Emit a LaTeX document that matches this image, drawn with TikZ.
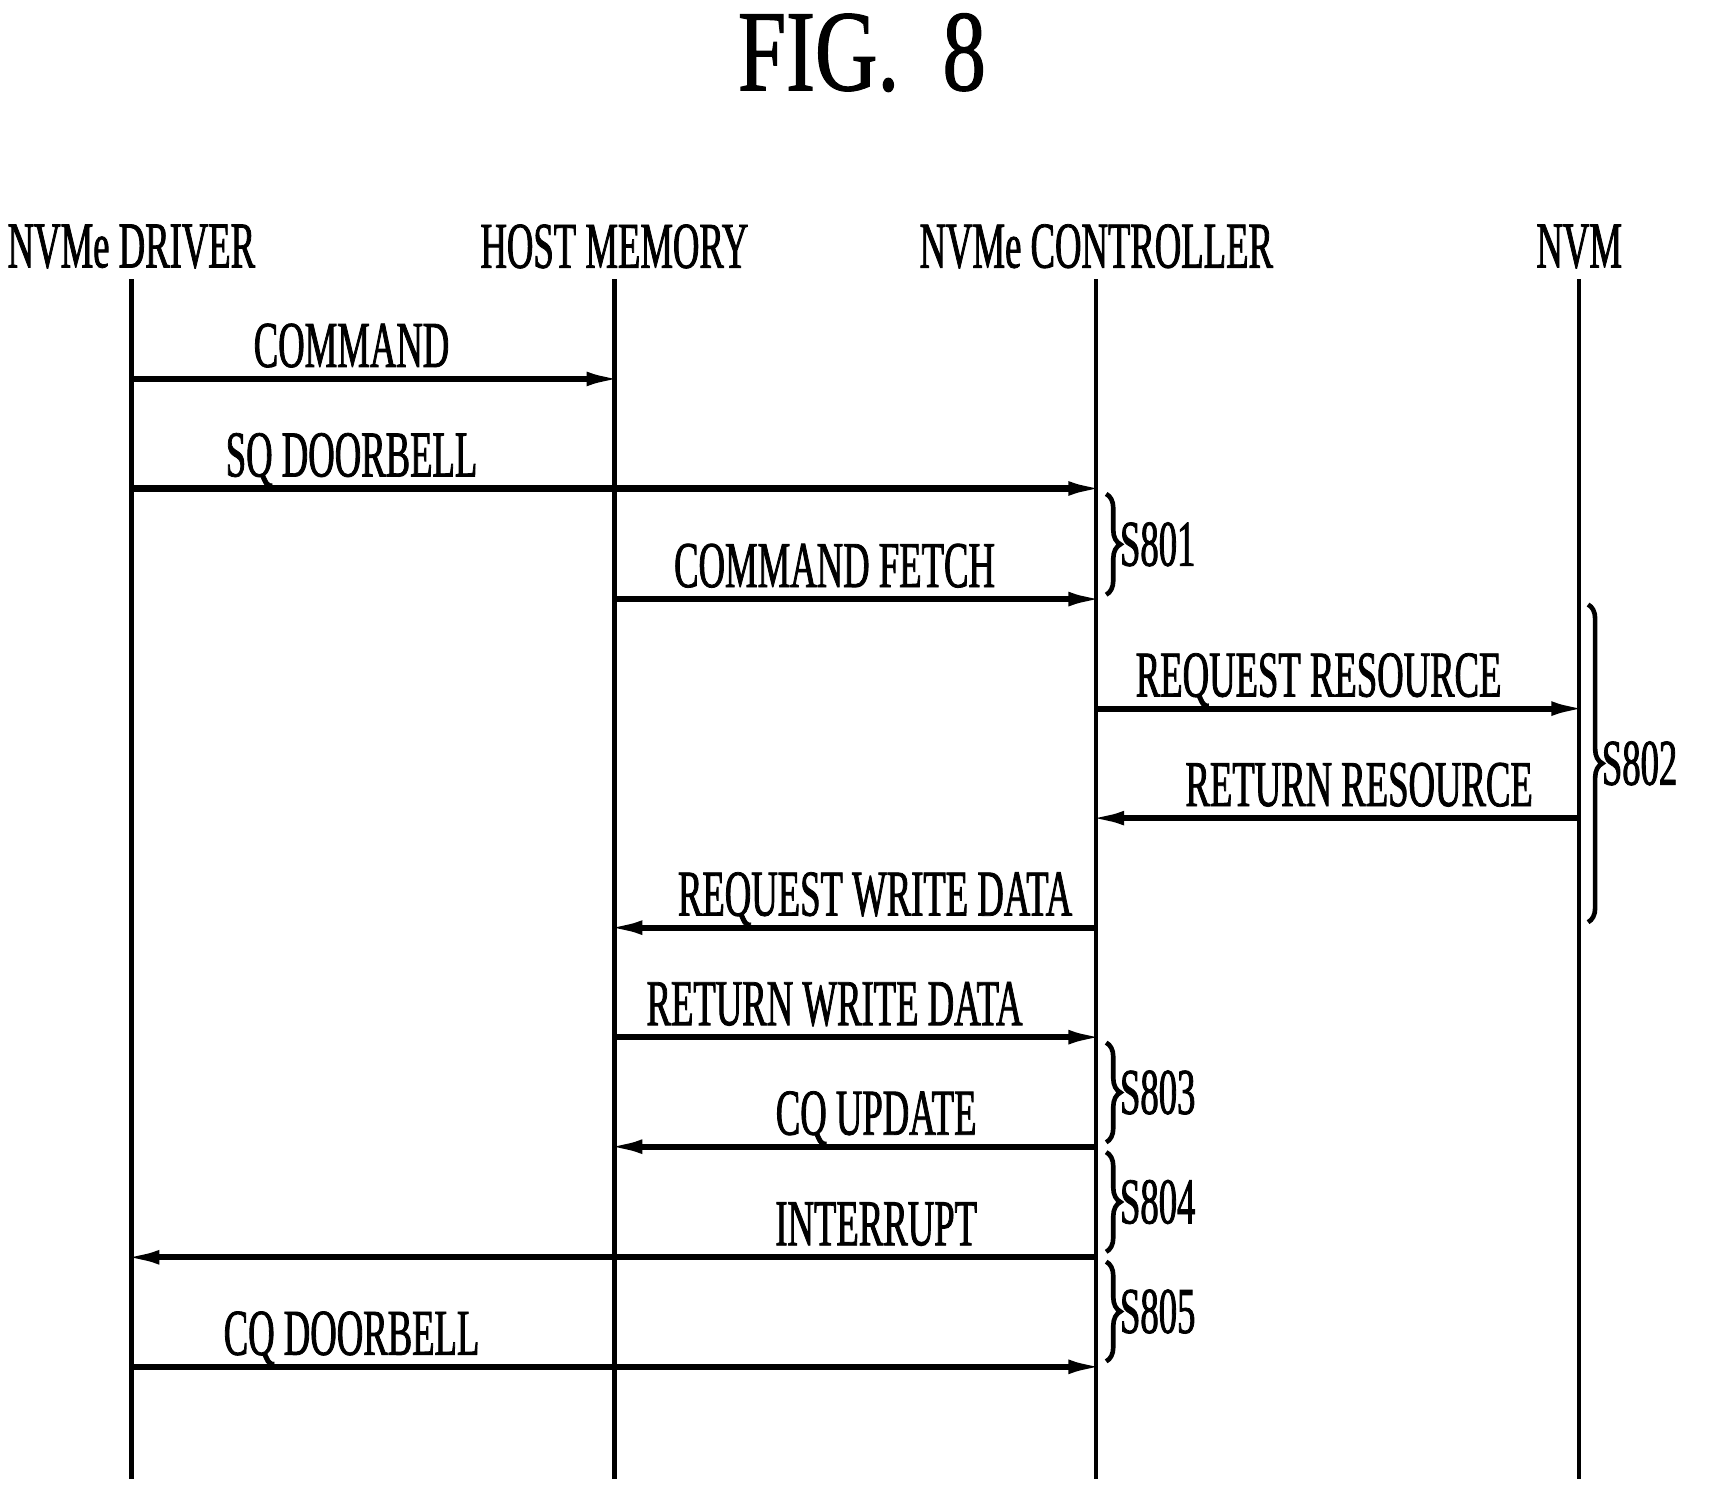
\documentclass[tikz,border=0pt]{standalone}
\usepackage{fontspec}
\setmainfont{Liberation Serif}[FakeStretch=0.56,FakeBold=1.2]
\newfontfamily\titlefont{Liberation Serif}[FakeStretch=0.75,FakeBold=1]
\usetikzlibrary{arrows.meta,decorations.pathreplacing}
\begin{document}
\begin{tikzpicture}[x=0.01cm,y=-0.01cm,
  life/.style={line width=1.1pt},
  msg/.style={line width=1.6pt,shorten >=-3pt,-{Latex[length=0.36cm,width=0.13cm]}},
  lbl/.style={font=\fontsize{17}{17}\selectfont,inner sep=0pt,anchor=base},
  head/.style={font=\fontsize{17}{17}\selectfont,inner sep=0pt},
  br/.style={line width=1.2pt,decorate,decoration={brace,amplitude=0.13cm}},
  steplbl/.style={font=\fontsize{17}{17}\selectfont,inner sep=0pt,anchor=west}]
\useasboundingbox (0,0) rectangle (1565,1366);
\node[font=\titlefont\fontsize{30}{30}\selectfont] (title) at (787,48) {FIG.\ \ 8};
\foreach \n/\x/\t in {a/120/NVMe DRIVER,b/561/HOST MEMORY,c/1001/NVMe CONTROLLER,d/1442/NVM}{
  \node[head] (h\n) at (\x,225) {\t};
  \coordinate (\n top) at (\x,255);
  \coordinate (\n bot) at (\x,1350);
  \draw[life] (\n top) -- (\n bot);
  \foreach \y in {346,446,547,647,747,847,947,1047,1148,1248}{\coordinate (\n\y) at (\x,\y);}
}
\draw[msg] (a346) -- (b346);
\node[lbl] (m1) at (321,335) {COMMAND};
\draw[msg] (a446) -- (c446);
\node[lbl] (m2) at (321,435) {SQ DOORBELL};
\draw[msg] (b547) -- (c547);
\node[lbl] (m3) at (762,536) {COMMAND FETCH};
\draw[msg] (c647) -- (d647);
\node[lbl] (m4) at (1204,636) {REQUEST RESOURCE};
\draw[msg] (d747) -- (c747);
\node[lbl] (m5) at (1241,736) {RETURN RESOURCE};
\draw[msg] (c847) -- (b847);
\node[lbl] (m6) at (799,836) {REQUEST WRITE DATA};
\draw[msg] (b947) -- (c947);
\node[lbl] (m7) at (762,936) {RETURN WRITE DATA};
\draw[msg] (c1047) -- (b1047);
\node[lbl] (m8) at (800,1036) {CQ UPDATE};
\draw[msg] (c1148) -- (a1148);
\node[lbl] (m9) at (800,1137) {INTERRUPT};
\draw[msg] (a1248) -- (c1248);
\node[lbl] (m10) at (321,1237) {CQ DOORBELL};
\coordinate (b1s) at (1010,451); \coordinate (b1e) at (1010,543);
\draw[br] (b1s) -- (b1e) node[steplbl,midway,right=3pt] (s1) {S801};
\coordinate (b2s) at (1450,552); \coordinate (b2e) at (1450,842);
\draw[br] (b2s) -- (b2e) node[steplbl,midway,right=3pt] (s2) {S802};
\coordinate (b3s) at (1010,952); \coordinate (b3e) at (1010,1043);
\draw[br] (b3s) -- (b3e) node[steplbl,midway,right=3pt] (s3) {S803};
\coordinate (b4s) at (1010,1052); \coordinate (b4e) at (1010,1143);
\draw[br] (b4s) -- (b4e) node[steplbl,midway,right=3pt] (s4) {S804};
\coordinate (b5s) at (1010,1152); \coordinate (b5e) at (1010,1243);
\draw[br] (b5s) -- (b5e) node[steplbl,midway,right=3pt] (s5) {S805};
\end{tikzpicture}
\end{document}
